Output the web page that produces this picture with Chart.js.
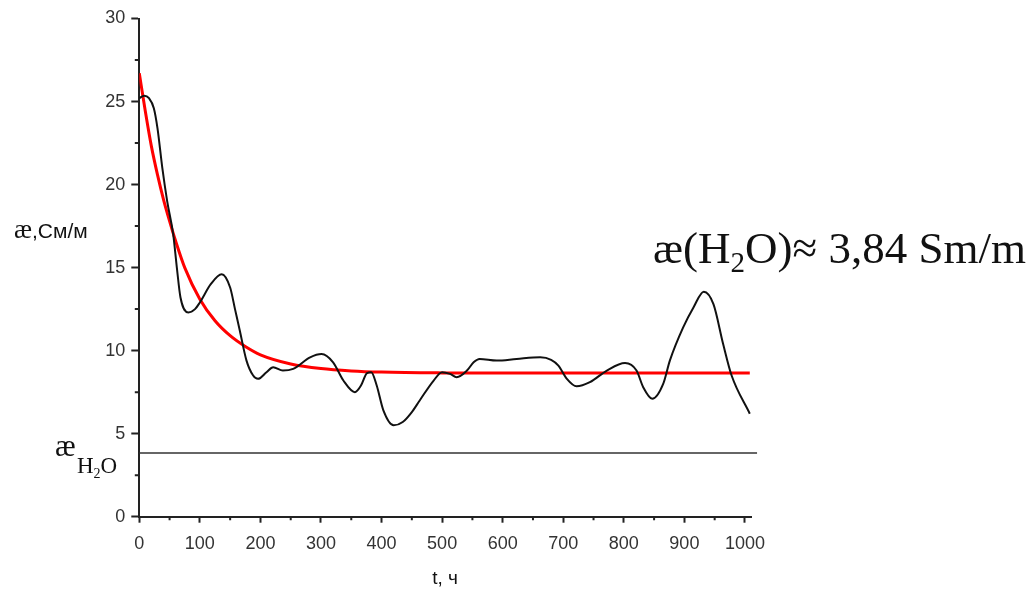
<!DOCTYPE html>
<html>
<head>
<meta charset="utf-8">
<script src="https://cdn.jsdelivr.net/npm/chart.js@4/dist/chart.umd.min.js"></script>
<style>
  html, body { margin: 0; padding: 0; background: #fff; }
  #wrap { width: 1031px; height: 595px; }
</style>
</head>
<body>
<div id="wrap"><canvas id="c" width="1031" height="595"></canvas></div>
<script>
// Conductivity over time, measured (black) and fitted decay (red)
const measuredT = [0, 8, 16, 24, 30, 38, 46, 56, 62, 68, 81, 92, 100, 118, 136, 150, 158, 166, 177, 188, 196, 210, 221, 237, 254, 282, 301, 320, 337, 356, 366, 376, 383, 392, 403, 420, 435, 450, 463, 486, 500, 513, 524, 541, 552, 562, 590, 623, 662, 680, 692, 706, 722, 744, 772, 802, 821, 832, 847, 865, 876, 898, 915, 932, 948, 964, 978, 1008];
const measuredK = [25.2, 25.35, 25.2, 24.6, 23.4, 21.0, 19.0, 17.0, 15.0, 13.2, 12.3, 12.5, 12.9, 14.0, 14.6, 13.8, 12.5, 11.2, 9.4, 8.5, 8.3, 8.7, 9.0, 8.8, 8.9, 9.6, 9.8, 9.3, 8.2, 7.5, 7.9, 8.65, 8.7, 7.9, 6.4, 5.5, 5.7, 6.3, 7.0, 8.2, 8.7, 8.6, 8.4, 8.8, 9.3, 9.5, 9.4, 9.5, 9.6, 9.45, 9.1, 8.3, 7.85, 8.1, 8.8, 9.25, 8.8, 7.8, 7.1, 8.0, 9.4, 11.4, 12.6, 13.55, 12.8, 10.4, 8.5, 6.2];

const fitT = [0, 10, 20, 30, 40, 50, 60, 75, 100, 125, 150, 175, 200, 250, 300, 350, 400, 500, 600, 800, 1008];
const fitK = [26.7, 24.4, 22.3, 20.6, 19.1, 17.8, 16.6, 15.0, 13.1, 11.8, 10.9, 10.25, 9.75, 9.2, 8.92, 8.78, 8.71, 8.66, 8.65, 8.65, 8.65];

// Conductivity of water
const waterT = [0, 1020];
const waterK = [3.84, 3.84];

const xMajorTicks = [0, 100, 200, 300, 400, 500, 600, 700, 800, 900, 1000];
const xMinorTicks = [50, 150, 250, 350, 450, 550, 650, 750, 850, 950];
const yMajorTicks = [0, 5, 10, 15, 20, 25, 30];
const yMinorTicks = [2.5, 7.5, 12.5, 17.5, 22.5, 27.5];

const toPoints = (xs, ys) => xs.map((x, i) => ({ x: x, y: ys[i] }));

const AXIS = '#222';
const TICK_FONT = { family: "'Liberation Sans', Arial, sans-serif", size: 18 };

// Short minor tick marks between labelled ticks
const minorTicks = {
  id: 'minorTicks',
  afterDraw(chart) {
    const ctx = chart.ctx;
    const xs = chart.scales.x, ys = chart.scales.y;
    ctx.save();
    ctx.strokeStyle = AXIS;
    ctx.lineWidth = 2;
    ctx.beginPath();
    xMinorTicks.forEach(v => {
      const px = xs.getPixelForValue(v);
      ctx.moveTo(px, ys.bottom);
      ctx.lineTo(px, ys.bottom + 3.5);
    });
    yMinorTicks.forEach(v => {
      const py = ys.getPixelForValue(v);
      ctx.moveTo(xs.left, py);
      ctx.lineTo(xs.left - 4.5, py);
    });
    ctx.stroke();
    ctx.restore();
  }
};

// Axis caption and water-level labels
const captions = {
  id: 'captions',
  afterDraw(chart) {
    const ctx = chart.ctx;
    ctx.save();
    ctx.fillStyle = '#111';
    ctx.textBaseline = 'alphabetic';
    ctx.textAlign = 'left';

    // y caption: æ,См/м
    ctx.font = "27px 'Liberation Serif', serif";
    ctx.fillText('æ', 14, 238);
    let w = ctx.measureText('æ').width;
    ctx.font = "21px 'Liberation Sans', Arial, sans-serif";
    ctx.fillText(',См/м', 14 + w, 238);

    // water line label: æ H₂O
    ctx.font = "31px 'Liberation Serif', serif";
    ctx.fillText('æ', 55, 456);
    ctx.font = "23px 'Liberation Serif', serif";
    ctx.fillText('H', 77, 473);
    let hx = 77 + ctx.measureText('H').width;
    ctx.font = "14px 'Liberation Serif', serif";
    ctx.fillText('2', hx, 478);
    hx += ctx.measureText('2').width;
    ctx.font = "23px 'Liberation Serif', serif";
    ctx.fillText('O', hx, 473);

    // annotation: æ(H₂O)≈ 3,84 Sm/m
    const base = 263;
    let x = 653;
    ctx.font = "45px 'Liberation Serif', serif";
    ctx.fillText('æ(H', x, base);
    x += ctx.measureText('æ(H').width;
    ctx.font = "29px 'Liberation Serif', serif";
    ctx.fillText('2', x, base + 9);
    x += ctx.measureText('2').width;
    ctx.font = "45px 'Liberation Serif', serif";
    ctx.fillText('O)≈ 3,84 Sm/m', x, base);
    ctx.restore();
  }
};

new Chart(document.getElementById('c'), {
  type: 'line',
  data: {
    datasets: [
      {
        label: 'measured',
        data: toPoints(measuredT, measuredK),
        borderColor: '#111',
        borderWidth: 2,
        pointRadius: 0,
        cubicInterpolationMode: 'monotone',
        fill: false
      },
      {
        label: 'fit',
        data: toPoints(fitT, fitK),
        borderColor: '#ff0000',
        borderWidth: 3,
        pointRadius: 0,
        cubicInterpolationMode: 'monotone',
        fill: false
      },
      {
        label: 'water',
        data: toPoints(waterT, waterK),
        borderColor: '#333',
        borderWidth: 1.6,
        pointRadius: 0,
        tension: 0,
        clip: false,
        fill: false
      }
    ]
  },
  options: {
    responsive: false,
    animation: false,
    events: [],
    layout: { padding: { top: 18.5, left: 0, right: 280, bottom: 0 } },
    plugins: { legend: { display: false }, tooltip: { enabled: false } },
    scales: {
      x: {
        type: 'linear',
        min: 0,
        max: 1010,
        afterFit(scale) { scale.height = 78.3; },
        afterBuildTicks(scale) { scale.ticks = xMajorTicks.map(v => ({ value: v })); },
        ticks: { color: '#333', font: TICK_FONT, padding: 11, maxRotation: 0, includeBounds: false, callback: v => String(v) },
        grid: { drawOnChartArea: false, drawTicks: true, tickLength: 6, tickColor: AXIS, tickWidth: 2 },
        border: { color: AXIS, width: 2 },
        title: {
          display: true,
          text: 't, ч',
          color: '#111',
          font: { family: "'Liberation Sans', Arial, sans-serif", size: 19 },
          padding: { top: 0, bottom: 5 }
        }
      },
      y: {
        type: 'linear',
        min: 0,
        max: 30,
        afterFit(scale) { scale.width = 139.3; },
        afterBuildTicks(scale) { scale.ticks = yMajorTicks.map(v => ({ value: v })); },
        ticks: { color: '#333', font: TICK_FONT, padding: 6, callback: v => String(v) },
        grid: { drawOnChartArea: false, drawTicks: true, tickLength: 8, tickColor: AXIS, tickWidth: 2 },
        border: { color: AXIS, width: 2 }
      }
    }
  },
  plugins: [minorTicks, captions]
});
</script>
</body>
</html>
